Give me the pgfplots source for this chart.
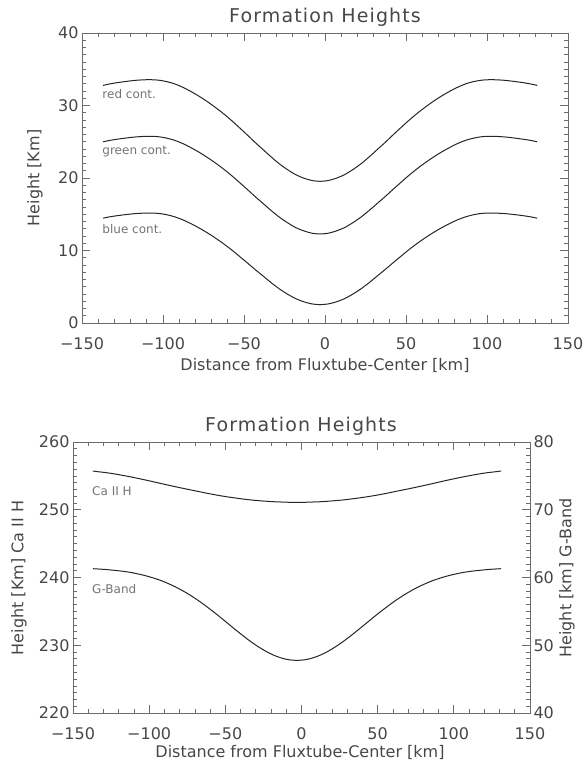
\documentclass[border=0pt]{standalone}
\usepackage{pgfplots}
\pgfplotsset{compat=1.18}
\usepackage{pgfplotstable}
\usepackage{fontspec}
\setmainfont{DejaVu Sans}
\newfontfamily\titlefont{DejaVu Sans}[LetterSpace=6]
\definecolor{axgray}{gray}{0.42}
\definecolor{labgray}{gray}{0.28}
\definecolor{txtgray}{gray}{0.45}
\definecolor{curvecol}{gray}{0.15}

\pgfplotstableread{
x red green blue
-137 32.77 24.99 14.45
-133 32.97 25.18 14.64
-128 33.16 25.36 14.81
-123 33.31 25.51 14.95
-118 33.45 25.64 15.07
-113 33.53 25.72 15.14
-108 33.56 25.75 15.17
-103 33.50 25.70 15.12
-98 33.31 25.51 14.95
-93 33.00 25.21 14.66
-88 32.53 24.77 14.25
-83 31.96 24.21 13.73
-78 31.31 23.59 13.14
-73 30.59 22.89 12.49
-68 29.79 22.13 11.77
-63 28.93 21.30 10.99
-58 27.99 20.40 10.15
-53 26.98 19.42 9.23
-48 25.94 18.43 8.30
-43 24.88 17.41 7.35
-38 23.87 16.44 6.44
-33 22.86 15.47 5.52
-28 21.92 14.57 4.68
-23 21.13 13.81 3.96
-18 20.45 13.15 3.35
-13 19.97 12.70 2.92
-8 19.65 12.38 2.63
-3 19.54 12.28 2.53
2 19.65 12.38 2.63
7 19.97 12.70 2.92
12 20.45 13.15 3.35
17 21.13 13.81 3.96
22 21.92 14.57 4.68
27 22.86 15.47 5.52
32 23.87 16.44 6.44
37 24.88 17.41 7.35
42 25.94 18.43 8.30
47 26.98 19.42 9.23
52 27.99 20.40 10.15
57 28.93 21.30 10.99
62 29.79 22.13 11.77
67 30.59 22.89 12.49
72 31.31 23.59 13.14
77 31.96 24.21 13.73
82 32.53 24.77 14.25
87 33.00 25.21 14.66
92 33.31 25.51 14.95
97 33.50 25.70 15.12
102 33.56 25.75 15.17
107 33.53 25.72 15.14
112 33.45 25.64 15.07
117 33.31 25.51 14.95
122 33.16 25.36 14.81
127 32.97 25.18 14.64
131 32.77 24.99 14.45
}\topdata

\pgfplotstableread{
x ca g
-137 255.72 61.30
-133 255.60 61.25
-128 255.47 61.17
-123 255.30 61.06
-118 255.10 60.94
-113 254.89 60.78
-108 254.66 60.56
-103 254.42 60.30
-98 254.17 59.98
-93 253.91 59.61
-88 253.66 59.16
-83 253.41 58.64
-78 253.17 58.05
-73 252.94 57.38
-68 252.71 56.64
-63 252.48 55.83
-58 252.26 54.97
-53 252.06 54.08
-48 251.88 53.15
-43 251.72 52.23
-38 251.57 51.34
-33 251.44 50.49
-28 251.34 49.73
-23 251.25 49.06
-18 251.18 48.51
-13 251.14 48.10
-8 251.10 47.85
-3 251.09 47.77
2 251.10 47.85
7 251.14 48.10
12 251.18 48.51
17 251.25 49.06
22 251.34 49.73
27 251.44 50.49
32 251.57 51.34
37 251.72 52.23
42 251.88 53.15
47 252.06 54.08
52 252.26 54.97
57 252.48 55.83
62 252.71 56.64
67 252.94 57.38
72 253.17 58.05
77 253.41 58.64
82 253.66 59.16
87 253.91 59.61
92 254.17 59.98
97 254.42 60.30
102 254.66 60.56
107 254.89 60.78
112 255.10 60.94
117 255.30 61.06
122 255.47 61.17
127 255.60 61.25
131 255.72 61.30
}\botdata

\pgfplotsset{
  myaxis/.style={
    scale only axis, anchor=south west,
    xmin=-150, xmax=150,
    xtick={-150,-100,...,150},
    xticklabels={−150,−100,−50,0,50,100,150},
    minor x tick num=4, minor y tick num=9,
    tick align=inside,
    major tick length=8pt, minor tick length=4pt,
    axis line style={axgray, line width=0.7pt},
    every tick/.style={axgray, line width=0.8pt},
    every minor tick/.style={axgray, line width=0.7pt},
    tick label style={font=\fontsize{16}{16}\selectfont, text=labgray},
    /pgf/number format/assume math mode=true,
    xticklabel style={yshift=-11pt},
    clip=false,
  },
  curve/.style={curvecol, line width=1pt, smooth, no markers},
}
\tikzset{
  lbl/.style={font=\fontsize{12}{12}\selectfont, text=txtgray, anchor=west, inner sep=0pt},
}

\begin{document}
\begin{tikzpicture}
\path[use as bounding box] (0,0) rectangle (584pt,762pt);

% top panel
\begin{axis}[myaxis, at={(82pt,439pt)}, width=486pt, height=290pt,
  ymin=0, ymax=40, ytick={0,10,...,40}]
\addplot[curve] table[x=x, y=red] {\topdata};
\addplot[curve] table[x=x, y=green] {\topdata};
\addplot[curve] table[x=x, y=blue] {\topdata};
\node[lbl] at (axis cs:-137.5,31.6) {red cont.};
\node[lbl] at (axis cs:-137.5,23.6) {green cont.};
\node[lbl] at (axis cs:-137.5,12.9) {blue cont.};
\end{axis}

% bottom panel, left scale
\begin{axis}[myaxis, at={(73pt,49pt)}, width=457pt, height=271pt,
  ymin=220, ymax=260, ytick={220,230,...,260}, ytick pos=left]
\addplot[curve] table[x=x, y=ca] {\botdata};
\node[lbl] at (axis cs:-137.5,252.8) {Ca II H};
\node[lbl] at (axis cs:-137.5,238.35) {G-Band};
\end{axis}

% bottom panel, right scale
\begin{axis}[myaxis, at={(73pt,49pt)}, width=457pt, height=271pt,
  ymin=40, ymax=80, ytick={40,50,...,80},
  axis y line*=right, axis x line=none]
\addplot[curve] table[x=x, y=g] {\botdata};
\end{axis}

% titles and axis labels
\begin{scope}[every node/.style={text=labgray}]
\node[font=\titlefont\fontsize{19}{19}\selectfont] at (325pt,745pt) {Formation Heights};
\node[font=\fontsize{16}{16}\selectfont] at (325pt,397pt) {Distance from Fluxtube-Center [km]};
\node[font=\fontsize{16}{16}\selectfont, rotate=90] at (35pt,584pt) {Height [Km]};
\node[font=\titlefont\fontsize{19}{19}\selectfont] at (301pt,336pt) {Formation Heights};
\node[font=\fontsize{16}{16}\selectfont] at (300pt,10pt) {Distance from Fluxtube-Center [km]};
\node[font=\fontsize{16}{16}\selectfont, rotate=90] at (19pt,184pt) {Height [Km] Ca II H};
\node[font=\fontsize{16}{16}\selectfont, rotate=90] at (567pt,184pt) {Height [km] G-Band};
\end{scope}
\end{tikzpicture}
\end{document}
